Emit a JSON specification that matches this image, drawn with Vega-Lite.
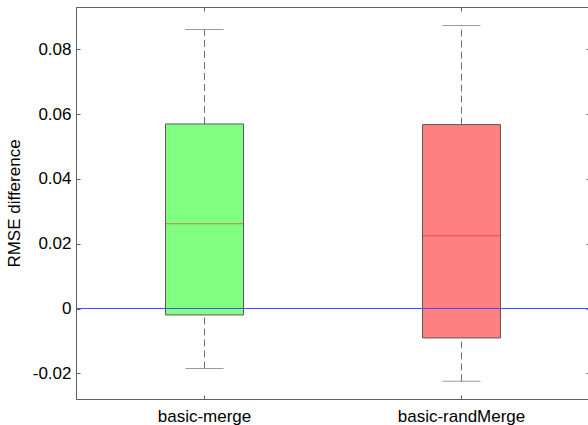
{
  "$schema": "https://vega.github.io/schema/vega-lite/v6.json",
  "width": 514,
  "height": 392,
  "autosize": "none",
  "padding": {"left": 76, "top": 7, "right": 0, "bottom": 26},
  "background": "white",
  "config": {
    "view": {"stroke": "#606060", "strokeWidth": 1},
    "axis": {
      "labelFont": "Liberation Sans",
      "titleFont": "Liberation Sans",
      "labelFontSize": 17,
      "titleFontSize": 17,
      "titleFontWeight": "normal",
      "labelColor": "black",
      "titleColor": "black",
      "domainColor": "#606060",
      "tickColor": "#606060",
      "grid": false,
      "tickSize": -4
    }
  },
  "data": {
    "values": [
      {"name": "basic-merge", "lower": -0.0185, "q1": -0.002, "median": 0.0262, "q3": 0.057, "upper": 0.0862},
      {"name": "basic-randMerge", "lower": -0.0225, "q1": -0.0091, "median": 0.0225, "q3": 0.0568, "upper": 0.0874}
    ]
  },
  "resolve": {"axis": {"x": "independent", "y": "independent"}},
  "layer": [
    {
      "mark": {"type": "rule", "color": "#707070", "strokeDash": [7, 4], "strokeWidth": 1},
      "encoding": {
        "x": {"field": "name", "type": "nominal", "sort": null, "title": null,
              "scale": {"paddingInner": 0, "paddingOuter": 0},
              "axis": {"orient": "bottom", "labelAngle": 0, "labelPadding": 13}},
        "y": {"field": "q3", "type": "quantitative", "title": "RMSE difference",
              "scale": {"domain": [-0.02795, 0.09312], "nice": false, "zero": false},
              "axis": {"orient": "left", "values": [-0.02, 0, 0.02, 0.04, 0.06, 0.08], "labelPadding": 9, "titlePadding": 9,
                       "labelExpr": "datum.value == 0 ? '0' : (datum.value < 0 ? '-' : '') + format(abs(datum.value), '.2f')"}},
        "y2": {"field": "upper"}
      }
    },
    {
      "mark": {"type": "rule", "color": "#707070", "strokeDash": [7, 4], "strokeWidth": 1},
      "encoding": {
        "x": {"field": "name", "type": "nominal", "sort": null, "axis": null},
        "y": {"field": "lower", "type": "quantitative", "axis": null},
        "y2": {"field": "q1"}
      }
    },
    {
      "mark": {"type": "tick", "color": "#707070", "size": 38, "thickness": 1, "orient": "horizontal"},
      "encoding": {
        "x": {"field": "name", "type": "nominal", "sort": null, "axis": null},
        "y": {"field": "upper", "type": "quantitative", "axis": null}
      }
    },
    {
      "mark": {"type": "tick", "color": "#707070", "size": 38, "thickness": 1, "orient": "horizontal"},
      "encoding": {
        "x": {"field": "name", "type": "nominal", "sort": null, "axis": null},
        "y": {"field": "lower", "type": "quantitative", "axis": null}
      }
    },
    {
      "mark": {"type": "bar", "size": 78, "stroke": "#5a5a5a", "strokeWidth": 1, "fillOpacity": 1},
      "encoding": {
        "x": {"field": "name", "type": "nominal", "sort": null, "axis": null},
        "y": {"field": "q1", "type": "quantitative", "axis": null},
        "y2": {"field": "q3"},
        "fill": {"field": "name", "type": "nominal", "legend": null,
                 "scale": {"domain": ["basic-merge", "basic-randMerge"], "range": ["#80ff80", "#ff8080"]}}
      }
    },
    {
      "mark": {"type": "tick", "size": 77, "thickness": 1, "orient": "horizontal", "opacity": 1},
      "encoding": {
        "x": {"field": "name", "type": "nominal", "sort": null, "axis": null},
        "y": {"field": "median", "type": "quantitative", "axis": null},
        "color": {"field": "name", "type": "nominal", "legend": null,
                  "scale": {"domain": ["basic-merge", "basic-randMerge"], "range": ["#c08040", "#f04848"]}}
      }
    },
    {
      "mark": {"type": "rule", "color": "#4a4aff", "strokeWidth": 1},
      "encoding": {
        "y": {"datum": 0, "type": "quantitative", "axis": null}
      }
    },
    {
      "mark": {"type": "point", "opacity": 0},
      "encoding": {
        "x": {"field": "name", "type": "nominal", "sort": null,
              "axis": {"orient": "top", "labels": false, "title": null}},
        "y": {"field": "median", "type": "quantitative",
              "axis": {"orient": "right", "labels": false, "title": null, "values": [-0.02, 0, 0.02, 0.04, 0.06, 0.08]}}
      }
    }
  ]
}
